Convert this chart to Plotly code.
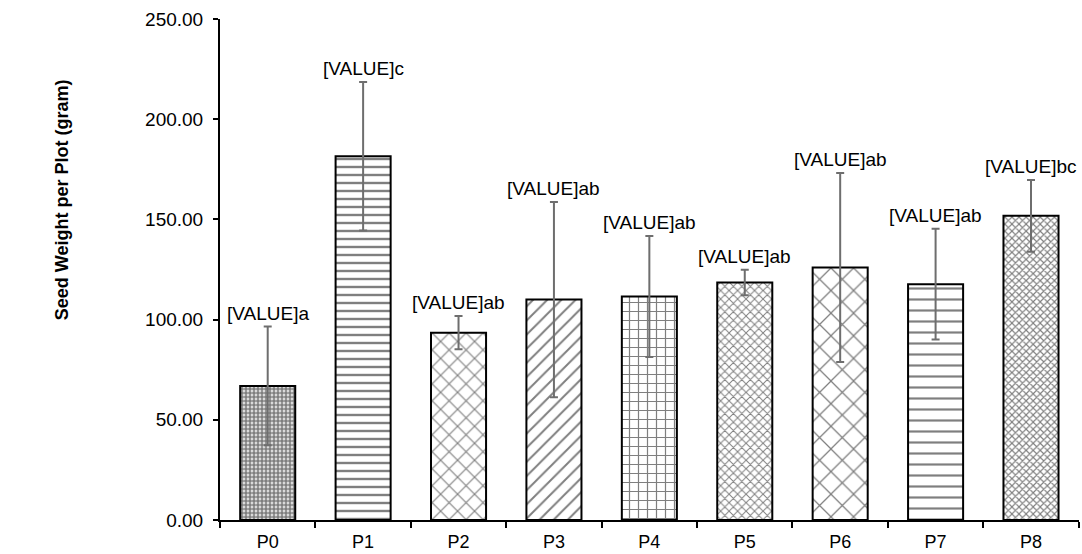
import plotly.graph_objects as go

# Treatments, mean seed weight per plot and standard deviation
treatments = ["P0", "P1", "P2", "P3", "P4", "P5", "P6", "P7", "P8"]
seed_weight = [66.9, 181.5, 93.5, 110.0, 111.5, 118.5, 126.0, 117.7, 151.8]
std_dev = [29.6, 37.1, 8.3, 48.7, 30.2, 6.4, 47.1, 27.6, 17.9]
letters = ["a", "c", "ab", "ab", "ab", "ab", "ab", "ab", "bc"]
y_ticks = [0, 50, 100, 150, 200, 250]

# Fill pattern for each bar
pat_shape = [".", "-", "x", "/", "+", "x", "x", "-", "x"]
pat_size = [4, 8, 12, 10, 9, 6, 16, 11, 5]
pat_solid = [0.72, 0.3, 0.18, 0.2, 0.25, 0.3, 0.15, 0.2, 0.4]

FONT = "Liberation Sans, Arial, sans-serif"

fig = go.Figure()
fig.add_trace(go.Bar(
    x=treatments,
    y=seed_weight,
    marker=dict(
        color="white",
        line=dict(color="black", width=2),
        pattern=dict(shape=pat_shape, size=pat_size, solidity=pat_solid,
                     fgcolor="black", bgcolor="white", fillmode="overlay"),
    ),
    error_y=dict(type="data", array=std_dev, visible=True,
                 color="#6e6e6e", thickness=2, width=4),
    showlegend=False,
))

# Significance labels placed just above each error bar
for t, v, e, l in zip(treatments, seed_weight, std_dev, letters):
    fig.add_annotation(
        x=t, y=v + e, xref="x", yref="y",
        text="[VALUE]" + l, showarrow=False,
        xanchor="center", yanchor="bottom", yshift=1,
        font=dict(family=FONT, size=19, color="black"),
    )

fig.add_annotation(
    x=-0.183, y=0.64, xref="paper", yref="paper",
    text="<b>Seed Weight per Plot (gram)</b>", textangle=-90,
    showarrow=False, xanchor="center", yanchor="middle",
    font=dict(family=FONT, size=18, color="black"),
)

fig.update_layout(
    width=1082, height=554,
    margin=dict(l=220, r=3, t=19, b=34),
    paper_bgcolor="white", plot_bgcolor="white",
    bargap=0.423,
    font=dict(family=FONT, size=19, color="black"),
    xaxis=dict(
        showline=True, linecolor="black", linewidth=2, automargin=False,
        ticks="outside", tickson="boundaries", ticklen=6, tickwidth=1.5,
        tickcolor="black", showgrid=False, ticklabelstandoff=4,
        tickfont=dict(family=FONT, size=18, color="black"),
    ),
    yaxis=dict(
        range=[0, 250], tickvals=y_ticks, tickformat=".2f", automargin=False,
        showline=True, linecolor="black", linewidth=2,
        ticks="outside", ticklen=5, tickwidth=1.5, tickcolor="black",
        showgrid=False, zeroline=False, ticklabelstandoff=6,
        tickfont=dict(family=FONT, size=19, color="black"),
    ),
)

fig.write_html("out.html")
